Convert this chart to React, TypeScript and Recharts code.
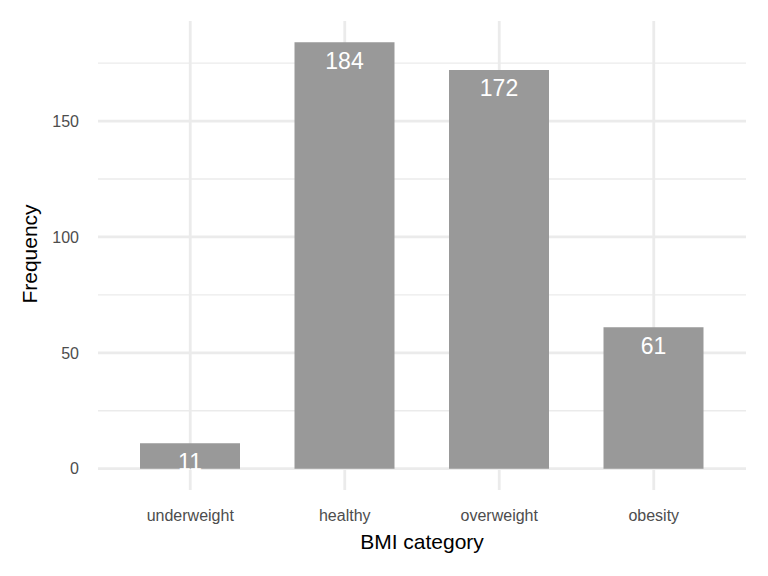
import { Bar, BarChart, CartesianGrid, LabelList, XAxis, YAxis } from "recharts";

const categories = ["underweight", "healthy", "overweight", "obesity"];
const counts = [11, 184, 172, 61];
const majorTicks = [0, 50, 100, 150];
const minorTicks = [25, 75, 125, 175];

const data = categories.map((bmi, i) => ({ bmi, n: counts[i] }));

const FONT = "'Liberation Sans', Arial, sans-serif";
const GRID = "#ebebeb";

// grid line renderer: recharts hands us the coords, we only pick the width
const gridLine = (w: number) => (p: any) => (
  <line key={p.key} x1={p.x1} y1={p.y1} x2={p.x2} y2={p.y2} stroke={GRID} strokeWidth={w} />
);

export default function App() {
  return (
    <div style={{ position: "absolute", left: 0, top: 0, width: 768, height: 576, background: "#fff" }}>
      <BarChart
        width={768}
        height={576}
        data={data}
        margin={{ top: 21, right: 22, bottom: 0, left: 0 }}
        style={{ fontFamily: FONT }}
      >
        <CartesianGrid horizontalValues={minorTicks} vertical={false} horizontal={gridLine(1.4)} />
        <CartesianGrid
          horizontalValues={majorTicks}
          verticalValues={categories}
          horizontal={gridLine(2.8)}
          vertical={gridLine(2.8)}
        />
        <XAxis
          dataKey="bmi"
          height={86}
          padding={{ left: 15, right: 15 }}
          tickLine={false}
          axisLine={false}
          tickSize={0}
          tickMargin={20}
          tick={{ fill: "#4d4d4d", fontSize: 16 }}
          label={{
            content: () => (
              <text x={422} y={549} textAnchor="middle" fontSize={21} fill="#000" fontFamily={FONT}>
                BMI category
              </text>
            ),
          }}
        />
        <YAxis
          width={98}
          domain={[-9.2, 193.2]}
          ticks={majorTicks}
          allowDataOverflow
          tickLine={false}
          axisLine={false}
          tickSize={0}
          tickMargin={19}
          tick={{ fill: "#4d4d4d", fontSize: 16 }}
          label={{
            content: () => (
              <text
                x={37}
                y={254}
                transform="rotate(-90 37 254)"
                textAnchor="middle"
                fontSize={21}
                fill="#000"
                fontFamily={FONT}
              >
                Frequency
              </text>
            ),
          }}
        />
        <Bar dataKey="n" fill="#999999" barSize={100} isAnimationActive={false}>
          <LabelList dataKey="n" position="insideTop" offset={10} fill="#ffffff" fontSize={23} />
        </Bar>
      </BarChart>
    </div>
  );
}
